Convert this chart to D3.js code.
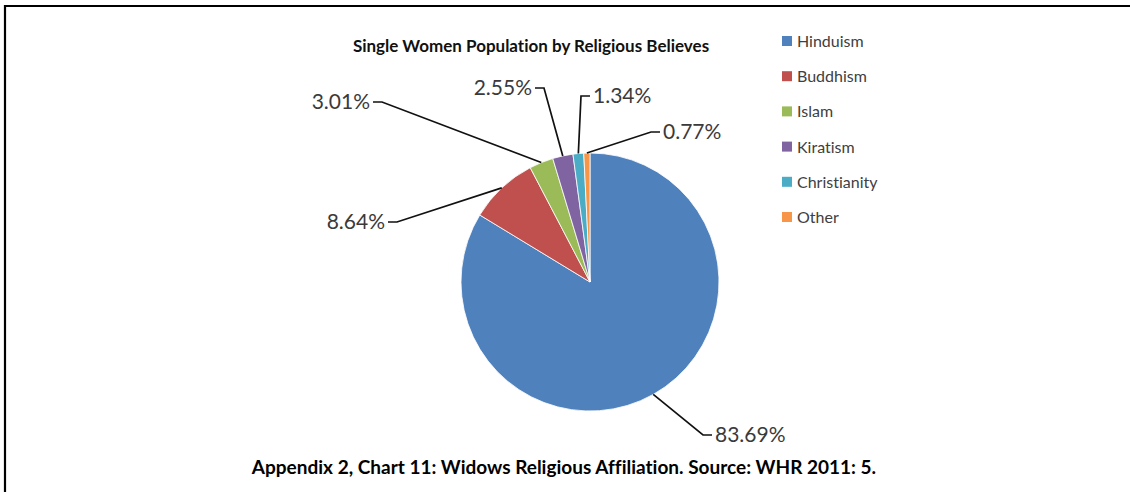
<!DOCTYPE html>
<html>
<head>
<meta charset="utf-8">
<script src="https://cdn.jsdelivr.net/npm/d3@7"></script>
<style>
  body { margin: 0; background: #fff; }
  svg { display: block; }
  text { font-variant-ligatures: none; font-feature-settings: "liga" 0, "dlig" 0; }
</style>
</head>
<body>
<svg id="chart" width="1130" height="492"></svg>
<script>
// Religious affiliation of single women (share of population, %)
const categories = ["Hinduism", "Buddhism", "Islam", "Kiratism", "Christianity", "Other"];
const shares = [83.69, 8.64, 3.01, 2.55, 1.34, 0.77];
const sliceColors = ["#4F81BD", "#C0504D", "#9BBB59", "#8064A2", "#4BACC6", "#F79646"];
const chartTitle = "Single Women Population by Religious Believes";
const captionText = "Appendix 2, Chart 11: Widows Religious Affiliation. Source: WHR 2011: 5.";

// Where each data label's leader line meets the label, relative to the pie centre,
// and which side of that point the text sits on.
const labelLayout = [
  { dx: 122,  dy: 153,  side: "right" },
  { dx: -202, dy: -60,  side: "left"  },
  { dx: -217, dy: -180, side: "left"  },
  { dx: -55,  dy: -194, side: "left"  },
  { dx: 0,    dy: -186, side: "right" },
  { dx: 70,   dy: -150, side: "right" }
];

const W = 1130, H = 492;
const cx = 590, cy = 282, radius = 129;
const font = "Lato, 'Open Sans', 'DejaVu Sans', sans-serif";

const svg = d3.select("#chart");

// Frame lines along the top and left edge
svg.append("path")
  .attr("d", `M5,${H} V6 H${W}`)
  .attr("fill", "none")
  .attr("stroke", "#000")
  .attr("stroke-width", 2.2);

// Title
svg.append("text")
  .attr("x", 531).attr("y", 52)
  .attr("text-anchor", "middle")
  .attr("font-family", font)
  .attr("font-weight", 700)
  .attr("font-size", 17)
  .attr("fill", "#111")
  .text(chartTitle);

// Pie
const color = d3.scaleOrdinal().domain(categories).range(sliceColors);
const data = categories.map((c, i) => ({ category: c, value: shares[i], layout: labelLayout[i] }));
const pie = d3.pie().sort(null).value(d => d.value);
const arcs = pie(data);

const arc = d3.arc().innerRadius(0).outerRadius(radius);
const edge = d3.arc().innerRadius(radius).outerRadius(radius);

const g = svg.append("g").attr("transform", `translate(${cx},${cy})`);

g.selectAll("path.slice")
  .data(arcs)
  .join("path")
  .attr("class", "slice")
  .attr("d", arc)
  .attr("fill", d => color(d.data.category))
  .attr("stroke", "#fff")
  .attr("stroke-width", 0.8);

// Leader lines: from the slice's outer edge to a short horizontal tail at the label
const fmt = v => d3.format(".2f")(v) + "%";
const tail = 9;

g.selectAll("path.leader")
  .data(arcs)
  .join("path")
  .attr("class", "leader")
  .attr("fill", "none")
  .attr("stroke", "#111")
  .attr("stroke-width", 1.7)
  .attr("d", d => {
    const [ex, ey] = edge.centroid(d);
    const L = d.data.layout;
    const elbowX = L.side === "right" ? L.dx - tail : L.dx + tail;
    return `M${ex},${ey} L${elbowX},${L.dy} L${L.dx},${L.dy}`;
  });

g.selectAll("text.value")
  .data(arcs)
  .join("text")
  .attr("class", "value")
  .attr("x", d => d.data.layout.side === "right" ? d.data.layout.dx + 3 : d.data.layout.dx - 3)
  .attr("y", d => d.data.layout.dy + 7)
  .attr("text-anchor", d => d.data.layout.side === "right" ? "start" : "end")
  .attr("font-family", font)
  .attr("font-size", 21)
  .attr("fill", "#3a3a3a")
  .text(d => fmt(d.data.value));

// Legend
const legendY = d3.scalePoint().domain(categories).range([41, 217]);
const legend = svg.append("g").selectAll("g")
  .data(categories)
  .join("g")
  .attr("transform", c => `translate(782,${legendY(c)})`);

legend.append("rect")
  .attr("x", 0).attr("y", -5)
  .attr("width", 10).attr("height", 10)
  .attr("fill", c => color(c));

legend.append("text")
  .attr("x", 15).attr("y", 6)
  .attr("font-family", font)
  .attr("font-size", 16)
  .attr("fill", "#404040")
  .text(c => c);

// Caption
svg.append("text")
  .attr("x", 564).attr("y", 474)
  .attr("text-anchor", "middle")
  .attr("font-family", font)
  .attr("font-weight", 700)
  .attr("font-size", 19)
  .attr("fill", "#000")
  .text(captionText);
</script>
</body>
</html>
